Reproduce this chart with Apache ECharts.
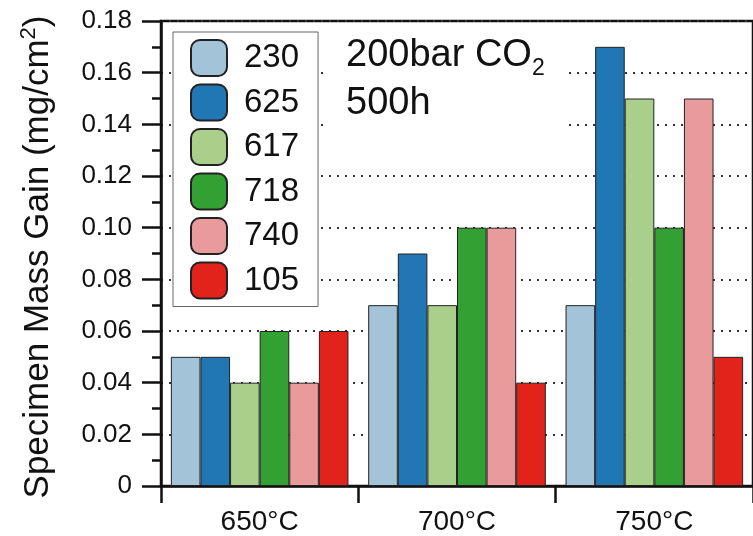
<!DOCTYPE html>
<html>
<head>
<meta charset="utf-8">
<script src="https://cdn.jsdelivr.net/npm/echarts@6/dist/echarts.min.js"></script>
<style>
html,body{margin:0;padding:0;background:#fff;}
#chart{width:753px;height:536px;}
</style>
</head>
<body>
<div id="chart"></div>
<script>
var categories = ['650°C', '700°C', '750°C'];
var seriesNames = ['230', '625', '617', '718', '740', '105'];
var s230 = [0.05, 0.07, 0.07];
var s625 = [0.05, 0.09, 0.17];
var s617 = [0.04, 0.07, 0.15];
var s718 = [0.06, 0.10, 0.10];
var s740 = [0.04, 0.10, 0.15];
var s105 = [0.06, 0.04, 0.05];
var seriesValues = [s230, s625, s617, s718, s740, s105];
var colors = ['#a3c3d8', '#2077b4', '#a9cf8b', '#33a034', '#e99a9b', '#e2231c'];
var FONT = "'Liberation Sans', Arial, Helvetica, sans-serif";

var chart = echarts.init(document.getElementById('chart'), null, {renderer: 'canvas'});

var series = seriesNames.map(function (n, i) {
  return {
    name: n,
    type: 'bar',
    data: seriesValues[i],
    barGap: '0%',
    barCategoryGap: '10%',
    itemStyle: {color: colors[i], borderColor: '#222', borderWidth: 1},
    emphasis: {disabled: true}
  };
});

chart.setOption({
  animation: false,
  textStyle: {fontFamily: FONT},
  grid: {left: 161, right: -2, top: 21, bottom: 48, show: true, borderColor: '#111', borderWidth: 2.5, backgroundColor: 'transparent'},
  title: {
    left: 328, top: 27,
    backgroundColor: '#fff',
    padding: [5, 21, 4, 18],
    text: '{a|200bar CO}{sub|2}\n{a|500h}',
    textStyle: {
      fontWeight: 'normal',
      rich: {
        a: {fontSize: 38, lineHeight: 48, color: '#111', fontWeight: 'normal', fontFamily: FONT},
        sub: {fontSize: 23, lineHeight: 24, verticalAlign: 'bottom', color: '#111', fontWeight: 'normal', fontFamily: FONT}
      }
    }
  },
  legend: {
    orient: 'vertical',
    left: 173, top: 32,
    backgroundColor: '#fff',
    borderColor: '#666',
    borderWidth: 1,
    borderRadius: 0,
    padding: [7, 19, 7, 17],
    itemWidth: 36,
    itemHeight: 36,
    itemGap: 6.5,
    icon: 'roundRect',
    selectedMode: false,
    textStyle: {fontSize: 33, color: '#111', fontFamily: FONT, padding: [0, 0, 0, 12]},
    data: seriesNames
  },
  xAxis: {
    type: 'category',
    data: categories,
    axisLine: {lineStyle: {color: '#111', width: 2.5}},
    axisTick: {show: true, length: 17, lineStyle: {color: '#111', width: 2.5}},
    axisLabel: {fontSize: 28, color: '#111', margin: 22, fontFamily: FONT},
    splitLine: {show: false}
  },
  yAxis: {
    type: 'value',
    min: 0, max: 0.18, interval: 0.02,
    axisLine: {show: true, lineStyle: {color: '#111', width: 2.5}},
    axisTick: {show: true, length: 19, lineStyle: {color: '#111', width: 2.5}},
    minorTick: {show: true, splitNumber: 2, length: 9, lineStyle: {color: '#111', width: 2.5}},
    axisLabel: {
      fontSize: 26, color: '#111', margin: 29, fontFamily: FONT,
      formatter: function (v) { return v === 0 ? '0' : v.toFixed(2); }
    },
    splitLine: {show: true, lineStyle: {color: '#333', width: 2, type: [2, 6]}}
  },
  graphic: [{
    type: 'text',
    x: 38, y: 257,
    rotation: Math.PI / 2,
    style: {
      text: '{a|Specimen Mass Gain (mg/cm}{sup|2}{a|)}',
      align: 'center',
      verticalAlign: 'middle',
      rich: {
        a: {fontSize: 35, lineHeight: 40, fill: '#111', fontFamily: FONT},
        sup: {fontSize: 22, lineHeight: 20, verticalAlign: 'top', fill: '#111', fontFamily: FONT}
      }
    }
  }],
  series: series
});
</script>
</body>
</html>
